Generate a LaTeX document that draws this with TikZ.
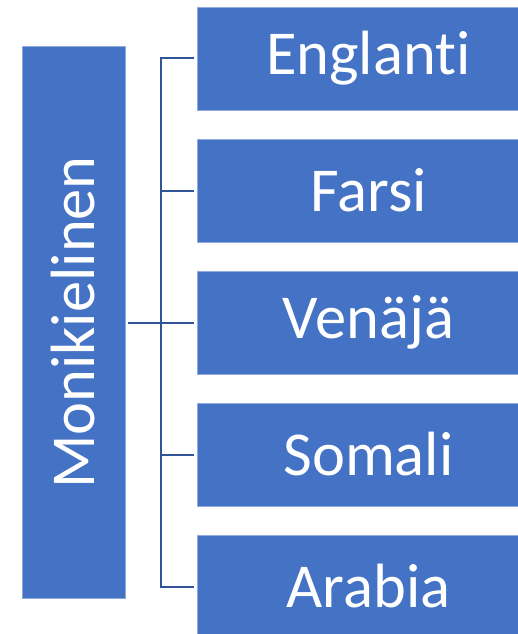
\documentclass[tikz,border=0pt]{standalone}
\usepackage{fontspec}
\setmainfont{Carlito}[Ligatures={NoCommon,NoRequired,NoContextual}]
\definecolor{boxblue}{RGB}{68,114,196}
\definecolor{boxedge}{RGB}{143,170,220}
\definecolor{linkblue}{RGB}{47,85,151}
\tikzset{
  langbox/.style={fill=boxblue, draw=boxedge, line width=0.8pt, inner sep=0pt, outer sep=0pt,
    minimum width=343pt, minimum height=103pt, text=white,
    font=\fontsize{62.5}{70}\selectfont},
  link/.style={draw=linkblue, line width=2pt}
}
\begin{document}
\begin{tikzpicture}[x=1pt,y=-1pt]
\useasboundingbox (0,0) rectangle (518,634);

\node [langbox, minimum width=552pt, rotate=90] (multi) at (73.5,322.5) {Monikielinen};

\node [langbox] (eng) at (368.5,58.5) {Englanti};
\node [langbox] (far) at (368.5,190.5) {Farsi};
\node [langbox] (ven) at (368.5,322.5) {Venäjä};
\node [langbox] (som) at (368.5,454.5) {Somali};
\node [langbox] (ara) at (368.5,586.5) {Arabia};

\coordinate (split) at (161,322.5);
\draw [link, shorten <=3pt] (multi.south) -- (split);
\draw [link, shorten >=3pt] (split) |- (eng.west);
\draw [link, shorten >=3pt] (split) |- (far.west);
\draw [link, shorten >=3pt] (split) |- (ven.west);
\draw [link, shorten >=3pt] (split) |- (som.west);
\draw [link, shorten >=3pt] (split) |- (ara.west);
\end{tikzpicture}
\end{document}
